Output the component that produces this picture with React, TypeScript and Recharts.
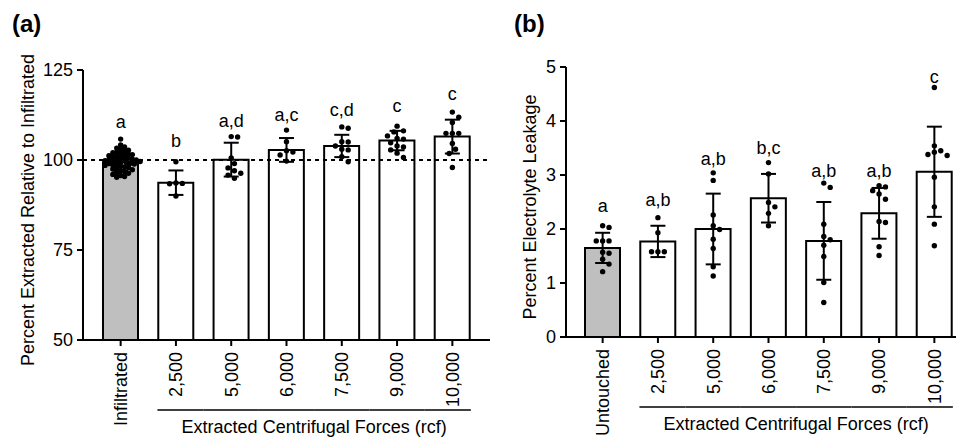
import React from "react";
import { Bar, Cell, ComposedChart, ErrorBar, ReferenceLine, Scatter, XAxis, YAxis } from "recharts";

const FONT = '"Liberation Sans", Arial, Helvetica, sans-serif';
const BAR_WIDTH = 35;
const DOT_R = 2.7;
const CONTROL_FILL = "#bfbfbf";

// (a) percent extracted relative to infiltrated
const CATEGORIES_A = ["Infiltrated", "2,500", "5,000", "6,000", "7,500", "9,000", "10,000"];
const MEANS_A = [99.4, 93.7, 100.1, 102.8, 103.9, 105.4, 106.5];
const SD_A = [2.4, 3.4, 4.7, 3.3, 3.1, 2.7, 4.7];
const LETTERS_A = ["a", "b", "a,d", "a,c", "c,d", "c", "c"];
const LETTER_Y_A = [110.3, 105.0, 110.6, 112.2, 113.6, 114.7, 118.3];
const POINTS_A = [
  [
    105.8, 104.2, 103.6, 103.3, 103.0, 102.7, 102.5, 102.2, 102.0, 101.8, 101.6, 101.5, 101.4, 101.2,
    101.0, 100.8, 100.6, 100.5, 100.3, 100.2, 100.1, 100.0, 99.9, 99.8, 99.7, 99.6, 99.4, 99.3, 99.1,
    99.0, 98.9, 98.8, 98.6, 98.5, 98.3, 98.1, 97.9, 97.7, 97.5, 97.3, 97.0, 96.8, 96.5, 96.3, 96.0,
    95.7, 95.4, 95.2,
  ],
  [99.5, 93.6, 93.5, 93.4, 90.0],
  [106.5, 106.4, 100.6, 99.0, 97.8, 97.0, 96.3, 95.8, 94.9],
  [108.3, 105.1, 102.6, 102.2, 101.4, 99.7],
  [109.2, 108.8, 105.1, 105.0, 103.9, 103.0, 102.8, 100.9, 99.5],
  [109.4, 108.1, 107.8, 106.7, 106.0, 105.8, 104.8, 103.9, 103.6, 102.8, 101.9, 100.7],
  [113.3, 111.9, 110.4, 107.4, 107.4, 107.4, 104.6, 103.0, 101.8, 97.9],
];
const TICKS_A = [50, 75, 100, 125];

// (b) percent electrolyte leakage
const CATEGORIES_B = ["Untouched", "2,500", "5,000", "6,000", "7,500", "9,000", "10,000"];
const MEANS_B = [1.65, 1.77, 2.0, 2.57, 1.78, 2.29, 3.06];
const SD_B = [0.28, 0.29, 0.655, 0.45, 0.72, 0.47, 0.835];
const LETTERS_B = ["a", "a,b", "a,b", "b,c", "a,b", "a,b", "c"];
const LETTER_Y_B = [2.42, 2.52, 3.28, 3.48, 3.06, 3.06, 4.81];
const POINTS_B = [
  [2.06, 2.03, 1.78, 1.78, 1.78, 1.57, 1.55, 1.44, 1.35, 1.21],
  [2.21, 1.93, 1.58, 1.58, 1.58],
  [3.04, 2.9, 2.26, 2.06, 1.99, 1.81, 1.64, 1.3, 1.13],
  [3.23, 3.02, 2.49, 2.41, 2.29, 2.06],
  [2.85, 2.77, 2.09, 1.86, 1.8, 1.7, 1.49, 1.01, 0.64],
  [2.8, 2.78, 2.71, 2.65, 2.55, 2.14, 2.12, 1.67, 1.51],
  [4.62, 3.54, 3.45, 3.42, 3.38, 3.36, 2.96, 2.41, 2.09, 1.69],
];
const TICKS_B = [0, 1, 2, 3, 4, 5];

const GROUP_LABEL = "Extracted Centrifugal Forces (rcf)";

// simple beeswarm: push overlapping dots sideways, in pixels
function swarm(values: number[], pxPerUnit: number, gap: number) {
  const placed: { x: number; y: number }[] = [];
  const out = values.map(() => 0);
  const order = values.map((_, i) => i).sort((a, b) => values[b] - values[a]);
  for (const i of order) {
    const y = values[i] * pxPerUnit;
    for (let k = 0; k < 80; k++) {
      const x = Math.ceil(k / 2) * (k % 2 ? 1 : -1) * (gap / 2);
      if (placed.every((p) => (p.x - x) ** 2 + (p.y - y) ** 2 >= gap * gap)) {
        placed.push({ x, y });
        out[i] = x;
        break;
      }
    }
  }
  return out;
}

const Dot = (p: any) => (
  <circle cx={p.cx + (p.payload?.dx ?? 0)} cy={p.cy} r={DOT_R} fill="#000" />
);

const Letter = (p: any) => (
  <text x={p.cx} y={p.cy} dy="0.3em" textAnchor="middle" fontSize={18} fontFamily={FONT} fill="#000">
    {p.payload?.text}
  </text>
);

const Hidden = () => <g />;

function makeTick(count: number) {
  return (p: any) => {
    const { x, y, payload, index } = p;
    const half = payload?.offset || 27.6;
    const lineY = y + 58;
    return (
      <g>
        <text
          x={x}
          y={y}
          dy="0.35em"
          transform={`rotate(-90, ${x}, ${y})`}
          textAnchor="end"
          fontSize={18}
          fontFamily={FONT}
          fill="#000"
        >
          {payload.value}
        </text>
        {index >= 1 && (
          <line
            x1={index === 1 ? x - BAR_WIDTH / 2 - 1 : x - half}
            x2={index === count - 1 ? x + BAR_WIDTH / 2 + 1 : x + half}
            y1={lineY}
            y2={lineY}
            stroke="#000"
            strokeWidth={1.5}
          />
        )}
        {index === 3 && (
          <text x={x + half} y={y + 75} dy="0.35em" textAnchor="middle" fontSize={18} fontFamily={FONT} fill="#000">
            {GROUP_LABEL}
          </text>
        )}
      </g>
    );
  };
}

type PanelProps = {
  left: number;
  width: number;
  top: number;
  bottom: number;
  padRight: number;
  padLeft: number;
  categories: string[];
  means: number[];
  sds: number[];
  letters: string[];
  letterY: number[];
  points: number[][];
  domain: [number, number];
  ticks: number[];
  refLine?: number;
};

function Panel(props: PanelProps) {
  const { categories, means, sds, letters, letterY, points, domain, ticks } = props;
  const pxPerUnit = 270 / (domain[1] - domain[0]);
  const bars = categories.map((cat, i) => ({ cat, mean: means[i], sd: sds[i] }));
  const dots = categories.flatMap((cat, i) => {
    // the big control group is packed tighter, dots overlap like in the original
    const gap = points[i].length > 20 ? 3.9 : 6.4;
    const offs = swarm(points[i], pxPerUnit, gap);
    return points[i].map((v, j) => ({ cat, v, dx: offs[j] }));
  });
  const labels = categories.map((cat, i) => ({ cat, y: letterY[i], text: letters[i] }));
  const axisStyle = { stroke: "#000", strokeWidth: 2 };

  return (
    <div style={{ position: "absolute", left: props.left, top: 0 }}>
      <ComposedChart
        width={props.width}
        height={439}
        data={bars}
        margin={{ top: props.top, right: 10, bottom: props.bottom, left: 23 }}
      >
        <XAxis
          dataKey="cat"
          type="category"
          allowDuplicatedCategory={false}
          interval={0}
          height={95}
          tickSize={6}
          tickMargin={6}
          padding={{ left: props.padLeft, right: props.padRight }}
          axisLine={axisStyle}
          tickLine={axisStyle}
          tick={makeTick(categories.length)}
        />
        <YAxis
          type="number"
          domain={domain}
          ticks={ticks}
          interval={0}
          allowDataOverflow
          width={60}
          tickSize={6}
          tickMargin={4}
          axisLine={axisStyle}
          tickLine={axisStyle}
          tick={{ fill: "#000", fontSize: 18, fontFamily: FONT }}
        />
        <Bar dataKey="mean" barSize={BAR_WIDTH} stroke="#000" strokeWidth={2} isAnimationActive={false}>
          {bars.map((b, i) => (
            <Cell key={b.cat} fill={i === 0 ? CONTROL_FILL : "#fff"} />
          ))}
        </Bar>
        {props.refLine !== undefined && (
          <ReferenceLine y={props.refLine} stroke="#000" strokeWidth={2} strokeDasharray="4 4" />
        )}
        <Scatter data={dots} dataKey="v" shape={Dot} isAnimationActive={false} />
        <Scatter dataKey="mean" shape={Hidden} isAnimationActive={false}>
          <ErrorBar dataKey="sd" direction="y" width={7.5} stroke="#000" strokeWidth={2} />
        </Scatter>
        <Scatter data={labels} dataKey="y" shape={Letter} isAnimationActive={false} />
      </ComposedChart>
    </div>
  );
}

export default function App() {
  return (
    <div style={{ position: "absolute", left: 0, top: 0, width: 966, height: 439, background: "#fff", fontFamily: FONT }}>
      <Panel
        left={0}
        width={500}
        top={70}
        bottom={4}
        padLeft={10}
        padRight={10}
        categories={CATEGORIES_A}
        means={MEANS_A}
        sds={SD_A}
        letters={LETTERS_A}
        letterY={LETTER_Y_A}
        points={POINTS_A}
        domain={[50, 125]}
        ticks={TICKS_A}
        refLine={100}
      />
      <Panel
        left={483}
        width={483}
        top={67}
        bottom={7}
        padLeft={9}
        padRight={-6}
        categories={CATEGORIES_B}
        means={MEANS_B}
        sds={SD_B}
        letters={LETTERS_B}
        letterY={LETTER_Y_B}
        points={POINTS_B}
        domain={[0, 5]}
        ticks={TICKS_B}
      />
      <svg width={966} height={439} style={{ position: "absolute", left: 0, top: 0, pointerEvents: "none" }}>
        <text x={12} y={32} fontSize={24} fontWeight="bold" fontFamily={FONT} fill="#000">(a)</text>
        <text x={514} y={32} fontSize={24} fontWeight="bold" fontFamily={FONT} fill="#000">(b)</text>
        <text
          x={28}
          y={210}
          dy="0.35em"
          transform="rotate(-90, 28, 210)"
          textAnchor="middle"
          fontSize={18}
          fontFamily={FONT}
          fill="#000"
        >
          Percent Extracted Relative to Infiltrated
        </text>
        <text
          x={530}
          y={207}
          dy="0.35em"
          transform="rotate(-90, 530, 207)"
          textAnchor="middle"
          fontSize={18}
          fontFamily={FONT}
          fill="#000"
        >
          Percent Electrolyte Leakage
        </text>
      </svg>
    </div>
  );
}
